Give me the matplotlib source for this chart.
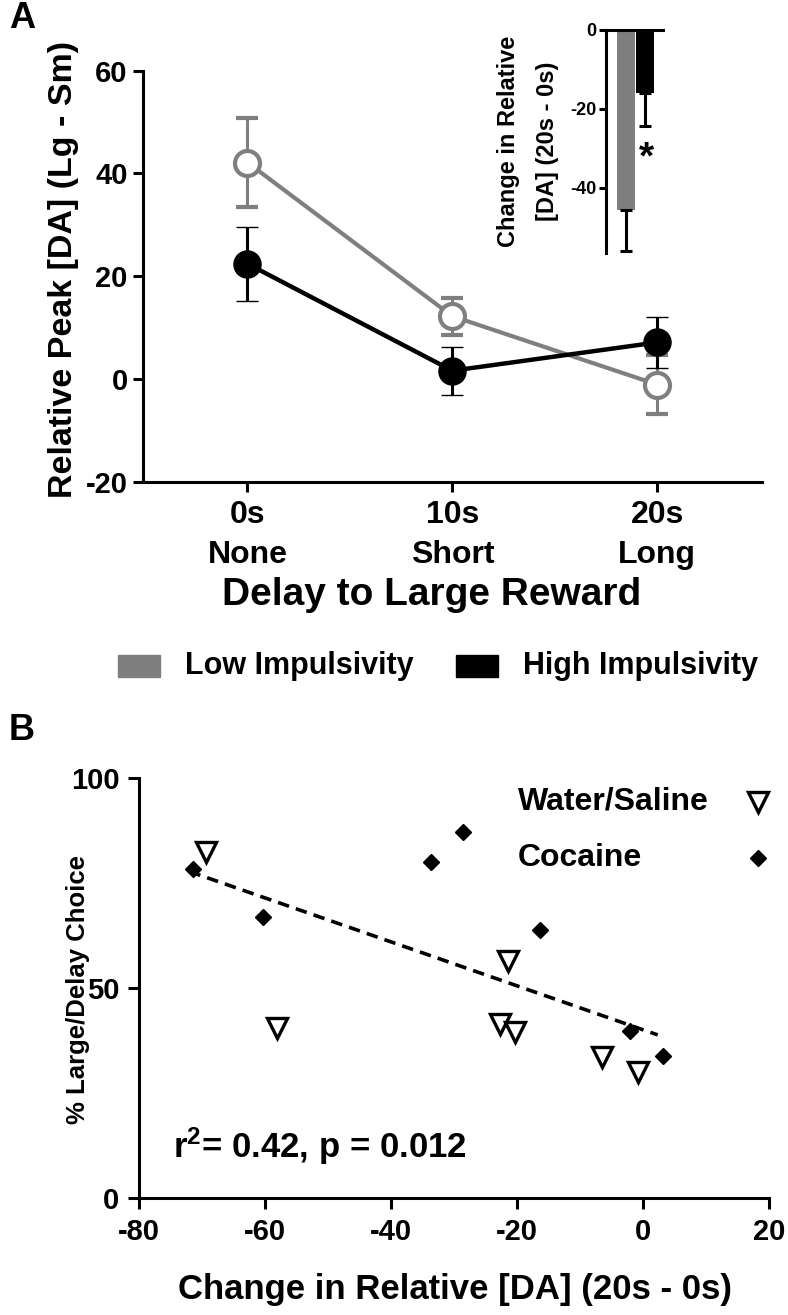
import matplotlib
matplotlib.use("Agg")
import matplotlib.pyplot as plt
from matplotlib.patches import Rectangle

plt.rcParams['font.family'] = ['Liberation Sans', 'DejaVu Sans']
plt.rcParams['font.weight'] = 'bold'
plt.rcParams['axes.labelweight'] = 'bold'
plt.rcParams['axes.unicode_minus'] = False
plt.rcParams['mathtext.fontset'] = 'custom'
plt.rcParams['mathtext.rm'] = 'Liberation Sans:bold'
plt.rcParams['mathtext.bf'] = 'Liberation Sans:bold'
plt.rcParams['mathtext.it'] = 'Liberation Sans:bold'
plt.rcParams['mathtext.default'] = 'bf'

#Panel A data
delays = ["0s\nNone", "10s\nShort", "20s\nLong"]
low_mean = [42.1, 12.2, -1.1]
low_sem = [8.7, 3.6, 5.7]
high_mean = [22.4, 1.6, 7.1]
high_sem = [7.2, 4.7, 5.0]

#Inset data (change 20s - 0s)
change_mean = [-45.6, -16.0]
change_sem = [10.4, 8.3]

#Panel B data
water_x = [-69.3, -58.1, -21.5, -22.8, -20.4, -6.6, -0.8]
water_y = [82.5, 40.5, 56.6, 41.5, 39.5, 33.6, 30.1]
coc_x = [-71.5, -60.4, -33.6, -28.6, -16.4, -2.05, 3.1]
coc_y = [78.3, 67.0, 80.1, 87.1, 63.9, 39.8, 34.0]
fit_x = [-72, 2.3]
fit_y = [77.8, 38.9]

gray = '#7f7f7f'
W, H = 788, 1315

fig = plt.figure(figsize=(W / 100, H / 100), dpi=100)

def fig_rect(left, top, right, bottom):
    return [left / W, 1 - bottom / H, (right - left) / W, (bottom - top) / H]

def style_axis(ax, lw=2.2, length=7):
    for s in ['top', 'right']:
        ax.spines[s].set_visible(False)
    for s in ['left', 'bottom']:
        ax.spines[s].set_linewidth(lw)
    ax.tick_params(width=lw, length=length, direction='out')

#Panel A
axA = fig.add_axes(fig_rect(143, 70.5, 761.7, 481.7))
xpos = list(range(len(delays)))
axA.errorbar(xpos, low_mean, yerr=low_sem, color=gray, lw=3, marker='o', ms=18,
             mfc='white', mec=gray, mew=3, capsize=8, elinewidth=2.2, capthick=2.2)
axA.errorbar(xpos, high_mean, yerr=high_sem, color='black', lw=3.2, marker='o', ms=19.5,
             mfc='black', mec='black', mew=1, capsize=8, elinewidth=2.2, capthick=2.2)
axA.set_xlim(-0.51, 2.51)
axA.set_ylim(-20, 60)
axA.set_yticks([-20, 0, 20, 40, 60])
axA.set_xticks(xpos)
axA.set_xticklabels(delays, fontsize=23, linespacing=1.45)
axA.tick_params(axis='y', labelsize=21, pad=4)
axA.tick_params(axis='x', pad=6)
style_axis(axA)
axA.set_ylabel("Relative Peak [DA] (Lg - Sm)", fontsize=24.5, va='center')
axA.yaxis.set_label_coords(-0.129, 0.515)
axA.set_xlabel("Delay to Large Reward", fontsize=28, va='center')
axA.xaxis.set_label_coords(0.467, -0.275)

#Legend A
fig.add_artist(Rectangle((118 / W, 1 - 677 / H), 42 / W, 22 / H, color=gray, transform=fig.transFigure))
fig.text(185 / W, 1 - 666 / H, "Low Impulsivity", fontsize=22, va='center', ha='left')
fig.add_artist(Rectangle((456 / W, 1 - 677 / H), 42 / W, 22 / H, color='black', transform=fig.transFigure))
fig.text(523 / W, 1 - 666 / H, "High Impulsivity", fontsize=22, va='center', ha='left')

#Inset
axI = fig.add_axes(fig_rect(606, 30, 663, 253))
axI.bar([0, 1], change_mean, width=0.97, color=[gray, 'black'])
axI.errorbar([0, 1], change_mean, yerr=[change_sem, [0, 0]], fmt='none', ecolor='black',
             elinewidth=2.2, capsize=4, capthick=2.2)
axI.set_xlim(-1.05, 1.97)
axI.set_ylim(-56.5, 0)
axI.set_yticks([0, -20, -40])
axI.set_xticks([])
for s in ['bottom', 'right']:
    axI.spines[s].set_visible(False)
axI.spines['left'].set_linewidth(2.2)
axI.spines['top'].set_linewidth(2.2)
axI.tick_params(axis='y', width=2.2, length=5, labelsize=13, pad=2)
axI.set_ylabel("Change in Relative\n[DA] (20s - 0s)", fontsize=17, linespacing=1.85, va='center')
axI.yaxis.set_label_coords(-1.37, 0.5)
axI.text(1.07, -32.5, "*", fontsize=28, ha='center', va='center')

#Panel B
axB = fig.add_axes(fig_rect(139, 778.3, 769.3, 1198.3))
axB.plot(fit_x, fit_y, color='black', lw=2.6, linestyle=(0, (3.2, 2)))
axB.plot(water_x, water_y, linestyle='none', marker='v', ms=14, mfc='white', mec='black', mew=2.4)
axB.plot(coc_x, coc_y, linestyle='none', marker='D', ms=8.5, mfc='black', mec='black', mew=1)
axB.set_xlim(-80, 20)
axB.set_ylim(0, 100)
axB.set_xticks([-80, -60, -40, -20, 0, 20])
axB.set_yticks([0, 50, 100])
style_axis(axB, length=8)
axB.tick_params(labelsize=21, pad=6)
axB.set_xlabel("Change in Relative [DA] (20s - 0s)", fontsize=25, va='center')
axB.xaxis.set_label_coords(0.501, -0.218)
axB.set_ylabel("% Large/Delay Choice", fontsize=18.5, va='center')
axB.yaxis.set_label_coords(-0.097, 0.496)

#Legend B
axB.text(0.601, 0.9436, "Water/Saline", fontsize=23, va='center', ha='left', transform=axB.transAxes)
axB.text(0.601, 0.810, "Cocaine", fontsize=23, va='center', ha='left', transform=axB.transAxes)
axB.plot([0.982], [0.9436], transform=axB.transAxes, marker='v', ms=14, mfc='white',
         mec='black', mew=2.4, linestyle='none', clip_on=False)
axB.plot([0.982], [0.810], transform=axB.transAxes, marker='D', ms=8.5, mfc='black',
         mec='black', linestyle='none', clip_on=False)

axB.text(0.054, 0.096, r"r$^{2}$= 0.42, p = 0.012", fontsize=25, va='baseline', ha='left',
         transform=axB.transAxes)

#Panel letters
fig.text(22 / W, 1 - 18 / H, "A", fontsize=26, ha='center', va='center')
fig.text(22 / W, 1 - 730 / H, "B", fontsize=26, ha='center', va='center')

fig.savefig("out.png", dpi=100)
